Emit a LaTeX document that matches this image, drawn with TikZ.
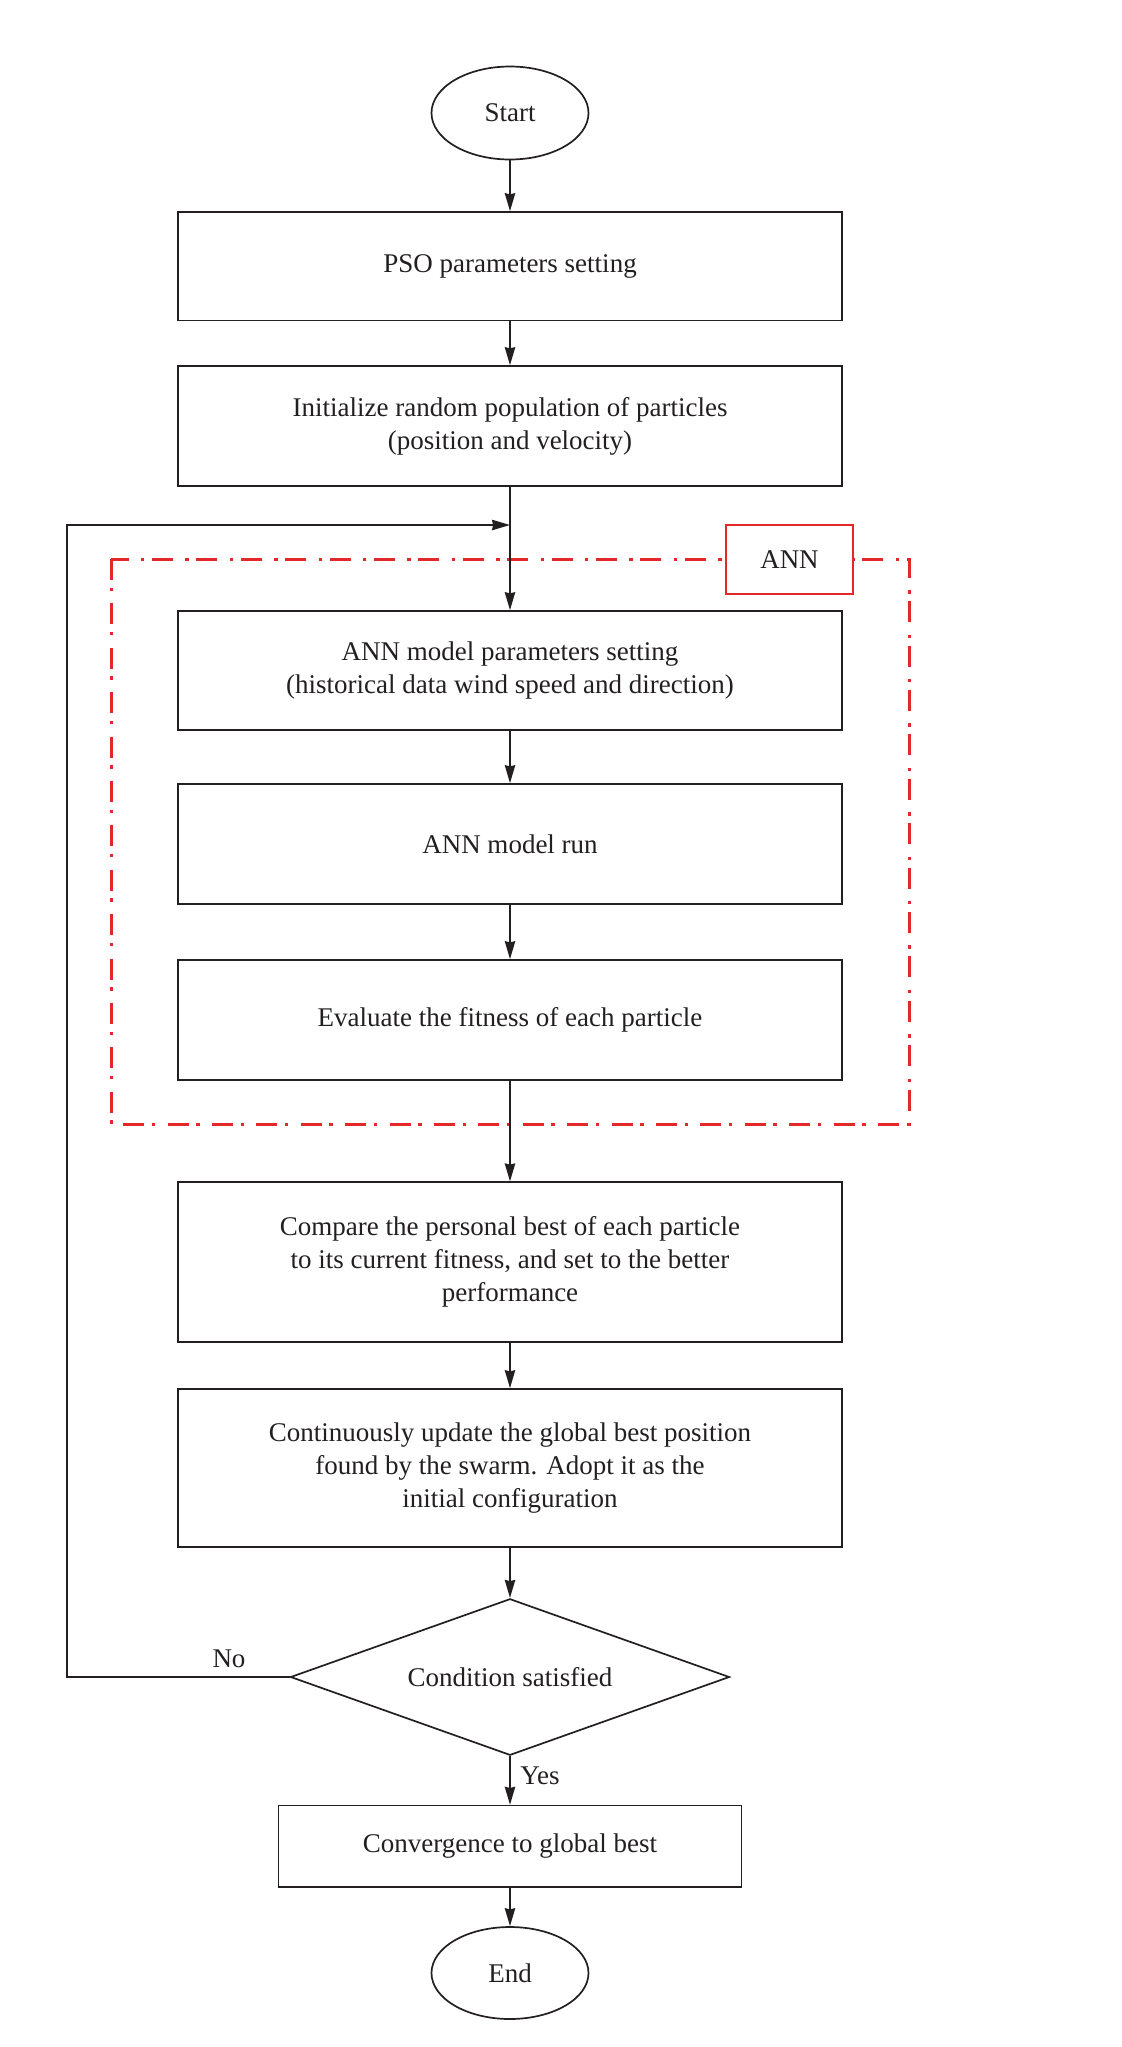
\documentclass[tikz,border=0pt]{standalone}
\usepackage{fontspec}
\setmainfont{Liberation Serif}
\usetikzlibrary{shapes.geometric,arrows.meta}
\definecolor{ink}{RGB}{35,31,32}
\definecolor{annred}{RGB}{226,40,40}
\tikzset{
  px/.style={x=0.5pt,y=-0.5pt},
  txt/.style={font=\fontsize{13.5}{16.4}\selectfont,text=ink},
  base/.style={draw=ink,line width=0.85pt,inner sep=0pt,align=center,txt,
    execute at begin node={\vspace*{2.4pt}}},
  stepbox/.style={base,rectangle,minimum width=332pt},
  term/.style={base,ellipse,minimum width=78.5pt,minimum height=46.5pt},
  decide/.style={base,diamond,shape aspect=2.8,minimum width=219.5pt,minimum height=78.25pt},
  flow/.style={draw=ink,line width=0.85pt,-{Stealth[length=9pt,width=5.2pt,inset=0.6pt]}},
  annzone/.style={draw=annred,line width=1.5pt,
    dash pattern=on 10.5pt off 3.8pt on 1.7pt off 6.2pt},
  annlabel/.style={draw=annred,line width=0.6pt,fill=white,inner sep=0pt,
    minimum width=63.5pt,minimum height=34.5pt,txt},
  lbl/.style={txt,inner sep=0pt}
}
\begin{document}
\begin{tikzpicture}[px]
\useasboundingbox (0,0) rectangle (1122,2047);
% ANN zone (drawn first, under the connectors)
\draw[annzone] (111,559) rectangle (909,1124);
\node[annlabel] (annlab) at (789.5,559.5) {ANN};

\node[term] (start) at (510,113) {Start};
\node[stepbox,minimum height=54.25pt] (pso) at (510,266.25) {PSO parameters setting};
\node[stepbox,minimum height=60pt] (init) at (510,426) {Initialize random population of particles\\(position and velocity)};
\node[stepbox,minimum height=59.5pt] (ann1) at (510,670.5) {ANN model parameters setting\\(historical data wind speed and direction)};
\node[stepbox,minimum height=60pt] (ann2) at (510,844) {ANN model run};
\node[stepbox,minimum height=60pt] (eval) at (510,1020) {Evaluate the fitness of each particle};
\node[stepbox,minimum height=79.75pt] (cmp) at (510,1262) {Compare the personal best of each particle\\to its current fitness, and set to the better\\performance};
\node[stepbox,minimum height=79pt] (cont) at (510,1468) {Continuously update the global best position\\found by the swarm. Adopt it as the\\initial configuration};
\node[decide] (cond) at (510,1677) {Condition satisfied};
\node[base,rectangle,minimum width=231.5pt,minimum height=40.7pt] (conv) at (510,1846.3) {Convergence to global best};
\node[term,minimum height=46pt] (end) at (510,1973) {End};

\coordinate (fb) at (510,525);
\coordinate (fbl) at (66.7,525);
\coordinate (fbb) at (66.7,1677);

\draw[flow] (start) -- (pso);
\draw[flow] (pso) -- (init);
\draw[flow] (init) -- (ann1);
\draw[flow] (ann1) -- (ann2);
\draw[flow] (ann2) -- (eval);
\draw[flow] (eval) -- (cmp);
\draw[flow] (cmp) -- (cont);
\draw[flow] (cont) -- (cond);
\draw[flow] (cond) -- (conv);
\draw[flow] (conv) -- (end);
\draw[flow] (cond.west) -- (fbb) -- (fbl) -- (fb);

\node[lbl] (no) at (229,1659) {No};
\node[lbl] (yes) at (540,1776) {Yes};
\end{tikzpicture}
\end{document}
